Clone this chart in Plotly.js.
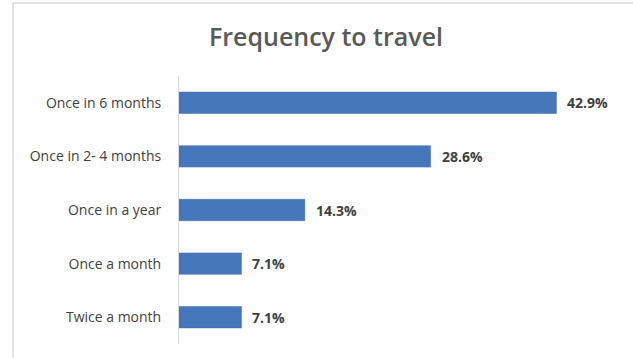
<!DOCTYPE html>
<html>
<head>
<meta charset="utf-8">
<script src="https://cdn.plot.ly/plotly-3.0.1.min.js"></script>
<style>
html,body{margin:0;padding:0;background:#fff;}
#chart{width:633px;height:358px;}
</style>
</head>
<body>
<div id="chart"></div>
<script>
const categories = ["Once in 6 months", "Once in 2- 4 months", "Once in a year", "Once a month", "Twice a month"];
const values = [42.9, 28.6, 14.3, 7.1, 7.1];
const valueLabels = ["42.9%", "28.6%", "14.3%", "7.1%", "7.1%"];

const trace = {
  type: "bar",
  orientation: "h",
  y: categories,
  x: values,
  marker: {color: "#4677bb", line: {color: "#3d6aab", width: 0.5}},
  hoverinfo: "none"
};

const labelAnnotations = categories.map((c, i) => ({
  x: values[i], y: c, xref: "x", yref: "y",
  text: valueLabels[i], showarrow: false,
  xanchor: "left", yanchor: "middle", xshift: 9,
  font: {family: "Open Sans, DejaVu Sans, sans-serif", size: 14, color: "#404040", weight: 700}
}));

const layout = {
  width: 633,
  height: 358,
  margin: {l: 179, r: 15, t: 76, b: 14},
  paper_bgcolor: "#ffffff",
  plot_bgcolor: "#ffffff",
  showlegend: false,
  bargap: 0.6,
  title: {
    text: "Frequency to travel",
    font: {family: "Open Sans, sans-serif", size: 25, color: "#595959", weight: 600},
    x: 0.515, xanchor: "center", y: 0.895, yanchor: "middle"
  },
  xaxis: {
    range: [0, 49.9],
    visible: false,
    fixedrange: true
  },
  yaxis: {
    autorange: "reversed",
    type: "category",
    showline: true,
    linecolor: "#d9d9d9",
    linewidth: 1,
    ticks: "",
    ticklabelstandoff: 14,
    tickfont: {family: "Open Sans, sans-serif", size: 14, color: "#404040"},
    showgrid: false,
    zeroline: false,
    fixedrange: true
  },
  annotations: labelAnnotations,
  shapes: [
    {type: "line", xref: "paper", yref: "paper", x0: -166/439, x1: 1.1, y0: 1 + 73/268, y1: 1 + 73/268, line: {color: "#d9d9d9", width: 1.5}},
    {type: "line", xref: "paper", yref: "paper", x0: -166/439, x1: -166/439, y0: 1 + 73/268, y1: -14/268, line: {color: "#d9d9d9", width: 1.5}}
  ],
  font: {family: "Open Sans, sans-serif"}
};

Plotly.newPlot("chart", [trace], layout, {displayModeBar: false, staticPlot: true});
</script>
</body>
</html>
